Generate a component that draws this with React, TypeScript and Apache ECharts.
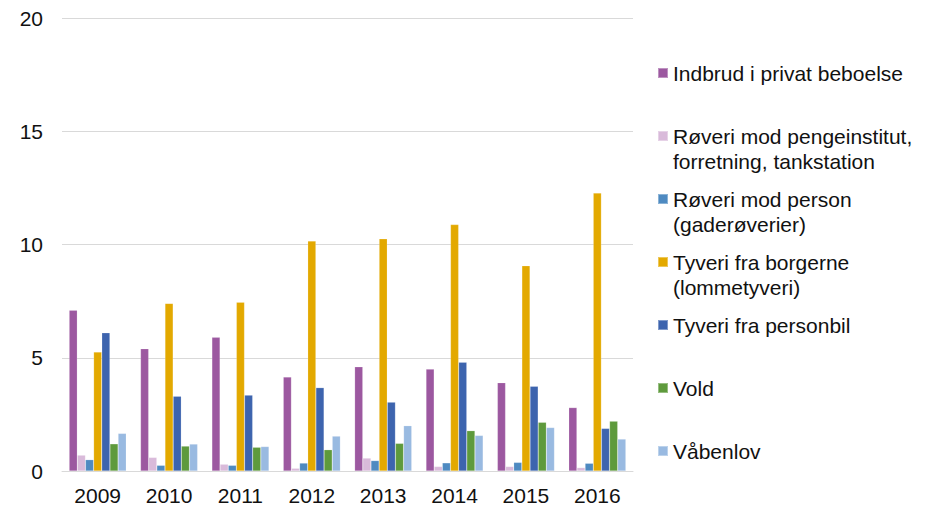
import React, { useEffect, useRef } from "react";
import * as echarts from "echarts";

const years = ["2009", "2010", "2011", "2012", "2013", "2014", "2015", "2016"];
const seriesNames = [
  "Indbrud i privat beboelse",
  "Røveri mod pengeinstitut,\nforretning, tankstation",
  "Røveri mod person\n(gaderøverier)",
  "Tyveri fra borgerne\n(lommetyveri)",
  "Tyveri fra personbil",
  "Vold",
  "Våbenlov",
];
const indbrud = [7.1, 5.4, 5.9, 4.15, 4.6, 4.5, 3.9, 2.8];
const roveriPenge = [0.7, 0.6, 0.3, 0.12, 0.57, 0.2, 0.2, 0.15];
const roveriPerson = [0.5, 0.25, 0.25, 0.35, 0.46, 0.36, 0.38, 0.34];
const tyveriBorger = [5.25, 7.4, 7.45, 10.15, 10.25, 10.88, 9.06, 12.27];
const personbil = [6.1, 3.3, 3.35, 3.68, 3.04, 4.8, 3.74, 1.88];
const vold = [1.2, 1.1, 1.05, 0.94, 1.22, 1.78, 2.15, 2.2];
const vaaben = [1.66, 1.19, 1.08, 1.54, 2.0, 1.57, 1.92, 1.41];
const seriesValues = [indbrud, roveriPenge, roveriPerson, tyveriBorger, personbil, vold, vaaben];
const colors = ["#9C58A0", "#D9BADA", "#4E8AC1", "#E3A900", "#3D64AE", "#5E9A3C", "#99BAE1"];

const FONT = "'Liberation Sans', Arial, Helvetica, sans-serif";

export default function App() {
  const ref = useRef<HTMLDivElement>(null);
  useEffect(() => {
    document.body.style.margin = "0";
    if (!ref.current) return;
    const chart = echarts.init(ref.current, undefined, { renderer: "svg" });
    const lineH = 25;
    const legends = seriesNames.map((name, i) => {
      const lines = name.split("\n").length;
      const center = 73 + 63 * i;
      const extra = lineH * (lines - 1);
      const h = 10 + extra;
      const icon =
        lines > 1
          ? `path://M0,0H10V10H0Z M0,${h - 0.01}H0.01V${h}H0Z`
          : "rect";
      return {
        orient: "vertical",
        left: 657,
        top: center - lineH / 2,
        padding: 0,
        itemWidth: 10,
        itemHeight: h,
        icon,
        selectedMode: false,
        data: [name],
        textStyle: {
          fontFamily: FONT,
          fontSize: 21,
          color: "#111",
          lineHeight: lineH,
        },
      };
    });
    chart.setOption({
      animation: false,
      color: colors,
      grid: { left: 62, right: 301, top: 18, bottom: 35, containLabel: false },
      legend: legends,
      xAxis: {
        type: "category",
        data: years,
        axisTick: { show: false },
        axisLine: { lineStyle: { color: "#D9D9D9", width: 1 } },
        axisLabel: { fontFamily: FONT, fontSize: 21, color: "#111", margin: 14 },
      },
      yAxis: {
        type: "value",
        min: 0,
        max: 20,
        interval: 5,
        axisLine: { show: false },
        axisTick: { show: false },
        splitLine: { lineStyle: { color: "#D9D9D9", width: 1 } },
        axisLabel: { fontFamily: FONT, fontSize: 21, color: "#111", margin: 19 },
      },
      series: seriesNames.map((name, i) => ({
        name,
        type: "bar",
        data: seriesValues[i],
        barGap: "0%",
        barCategoryGap: "20%",
        itemStyle: { borderColor: "rgba(255,255,255,0.35)", borderWidth: 0.5 },
      })),
    });
    return () => chart.dispose();
  }, []);
  return <div ref={ref} style={{ width: 934, height: 506 }} />;
}
